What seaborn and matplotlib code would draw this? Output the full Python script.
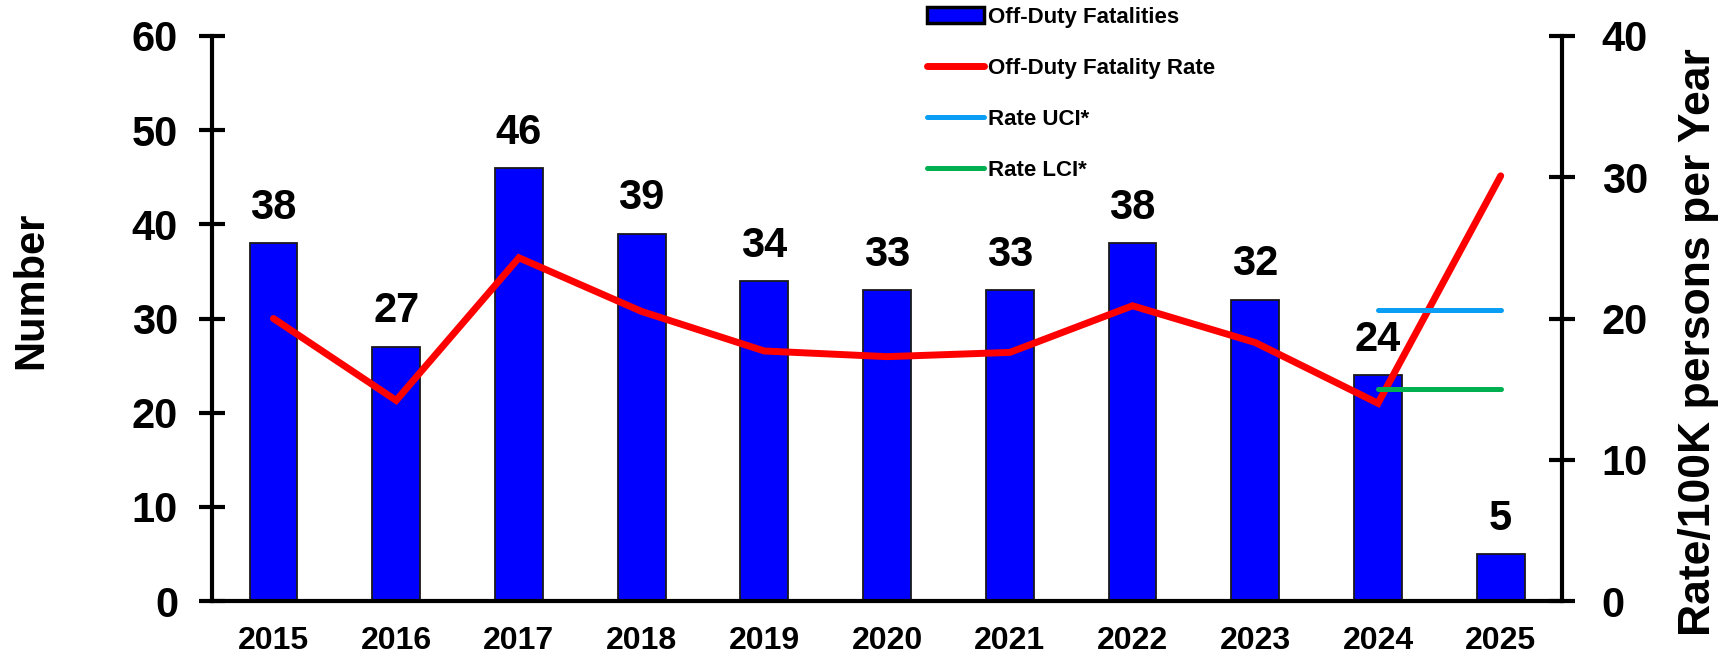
import numpy as np
import pandas as pd
import matplotlib
matplotlib.use("Agg")
import matplotlib.pyplot as plt
from matplotlib.patches import Patch
from matplotlib.ticker import FixedLocator
import seaborn as sns

# Annual off-duty fatalities and rate per 100K persons per year
years = ["2015", "2016", "2017", "2018", "2019", "2020",
         "2021", "2022", "2023", "2024", "2025"]
fatalities = [38, 27, 46, 39, 34, 33, 33, 38, 32, 24, 5]
fatality_rate = [20.0, 14.2, 24.3, 20.5, 17.7, 17.3, 17.6, 20.9, 18.3, 14.0, 30.1]

# Confidence bounds drawn across the last two years
ci_years = ["2024", "2025"]
rate_uci = [20.6, 20.6]
rate_lci = [15.0, 15.0]

sns.set_theme(style="white")
plt.rcParams["font.family"] = ["Liberation Sans", "DejaVu Sans"]
plt.rcParams["font.weight"] = "bold"
for key in ["text.color", "axes.labelcolor", "xtick.color", "ytick.color"]:
    plt.rcParams[key] = "black"

fig = plt.figure(figsize=(17.27, 6.58), dpi=100)
ax = fig.add_axes([0.1228, 0.0866, 0.7817, 0.8587])
ax2 = ax.twinx()

pos = {y: i for i, y in enumerate(years)}
bars_df = pd.DataFrame({"year": years, "count": fatalities})
rate_df = pd.DataFrame({"x": [pos[y] for y in years], "rate": fatality_rate})
uci_df = pd.DataFrame({"x": [pos[y] for y in ci_years], "rate": rate_uci})
lci_df = pd.DataFrame({"x": [pos[y] for y in ci_years], "rate": rate_lci})

sns.barplot(data=bars_df, x="year", y="count", ax=ax, color="#0000FF",
            saturation=1, width=0.39, edgecolor="#1a1a1a", linewidth=1.3)
ax.bar_label(ax.containers[0], labels=[str(v) for v in fatalities],
             padding=11, fontsize=30, fontweight="bold", color="black")

sns.lineplot(data=rate_df, x="x", y="rate", ax=ax2, color="#FF0000",
             linewidth=5, solid_capstyle="round", solid_joinstyle="miter")
sns.lineplot(data=uci_df, x="x", y="rate", ax=ax2, color="#0A9EF5",
             linewidth=3.6, solid_capstyle="round")
sns.lineplot(data=lci_df, x="x", y="rate", ax=ax2, color="#00B050",
             linewidth=3.6, solid_capstyle="round")

ax.set_xlim(-0.5, len(years) - 0.5)
ax.set_ylim(0, 60)
ax2.set_ylim(0, 40)
ax.set_yticks(np.arange(0, 61, 10))
ax2.set_yticks(np.arange(0, 41, 10))

ax.set_xlabel("")
ax2.set_xlabel("")
ax.set_ylabel("Number", fontsize=30, fontweight="bold")
ax2.set_ylabel("Rate/100K persons per Year", fontsize=32, fontweight="bold")
ax.yaxis.set_label_coords(-0.119, 0.55)
ax2.yaxis.set_label_coords(1.086, 0.458)

for s in ["top", "right"]:
    ax.spines[s].set_visible(False)
for s in ["top", "left", "bottom"]:
    ax2.spines[s].set_visible(False)
for a in (ax, ax2):
    for s in a.spines.values():
        s.set_linewidth(3)
        s.set_color("black")

# Year labels centred under bars, tick marks between the categories
ax.tick_params(axis="x", which="major", length=0, labelsize=23, pad=18)
ax.xaxis.set_minor_locator(FixedLocator(np.arange(0.5, len(years) - 1, 1)))
ax.tick_params(axis="x", which="minor", direction="inout", length=16,
               width=3, color="black")
ax.tick_params(axis="y", direction="inout", length=19, width=3,
               labelsize=30, pad=15, color="black")
ax2.tick_params(axis="y", direction="inout", length=19, width=3,
                labelsize=30, pad=19, color="black")
for lab in ax.get_xticklabels() + ax.get_yticklabels() + ax2.get_yticklabels():
    lab.set_fontweight("bold")

bar_handle = Patch(facecolor="#0000FF", edgecolor="black", linewidth=2.5)
handles = [bar_handle, ax2.lines[0], ax2.lines[1], ax2.lines[2]]
labels = ["Off-Duty Fatalities", "Off-Duty Fatality Rate", "Rate UCI*", "Rate LCI*"]
fig.legend(handles, labels, loc="upper left", bbox_to_anchor=(0.5368, 0.99),
           frameon=False, prop={"weight": "bold", "size": 16},
           labelspacing=1.35, handlelength=2.55, handletextpad=0.2,
           borderpad=0, borderaxespad=0)

fig.savefig("out.png", dpi=100)
